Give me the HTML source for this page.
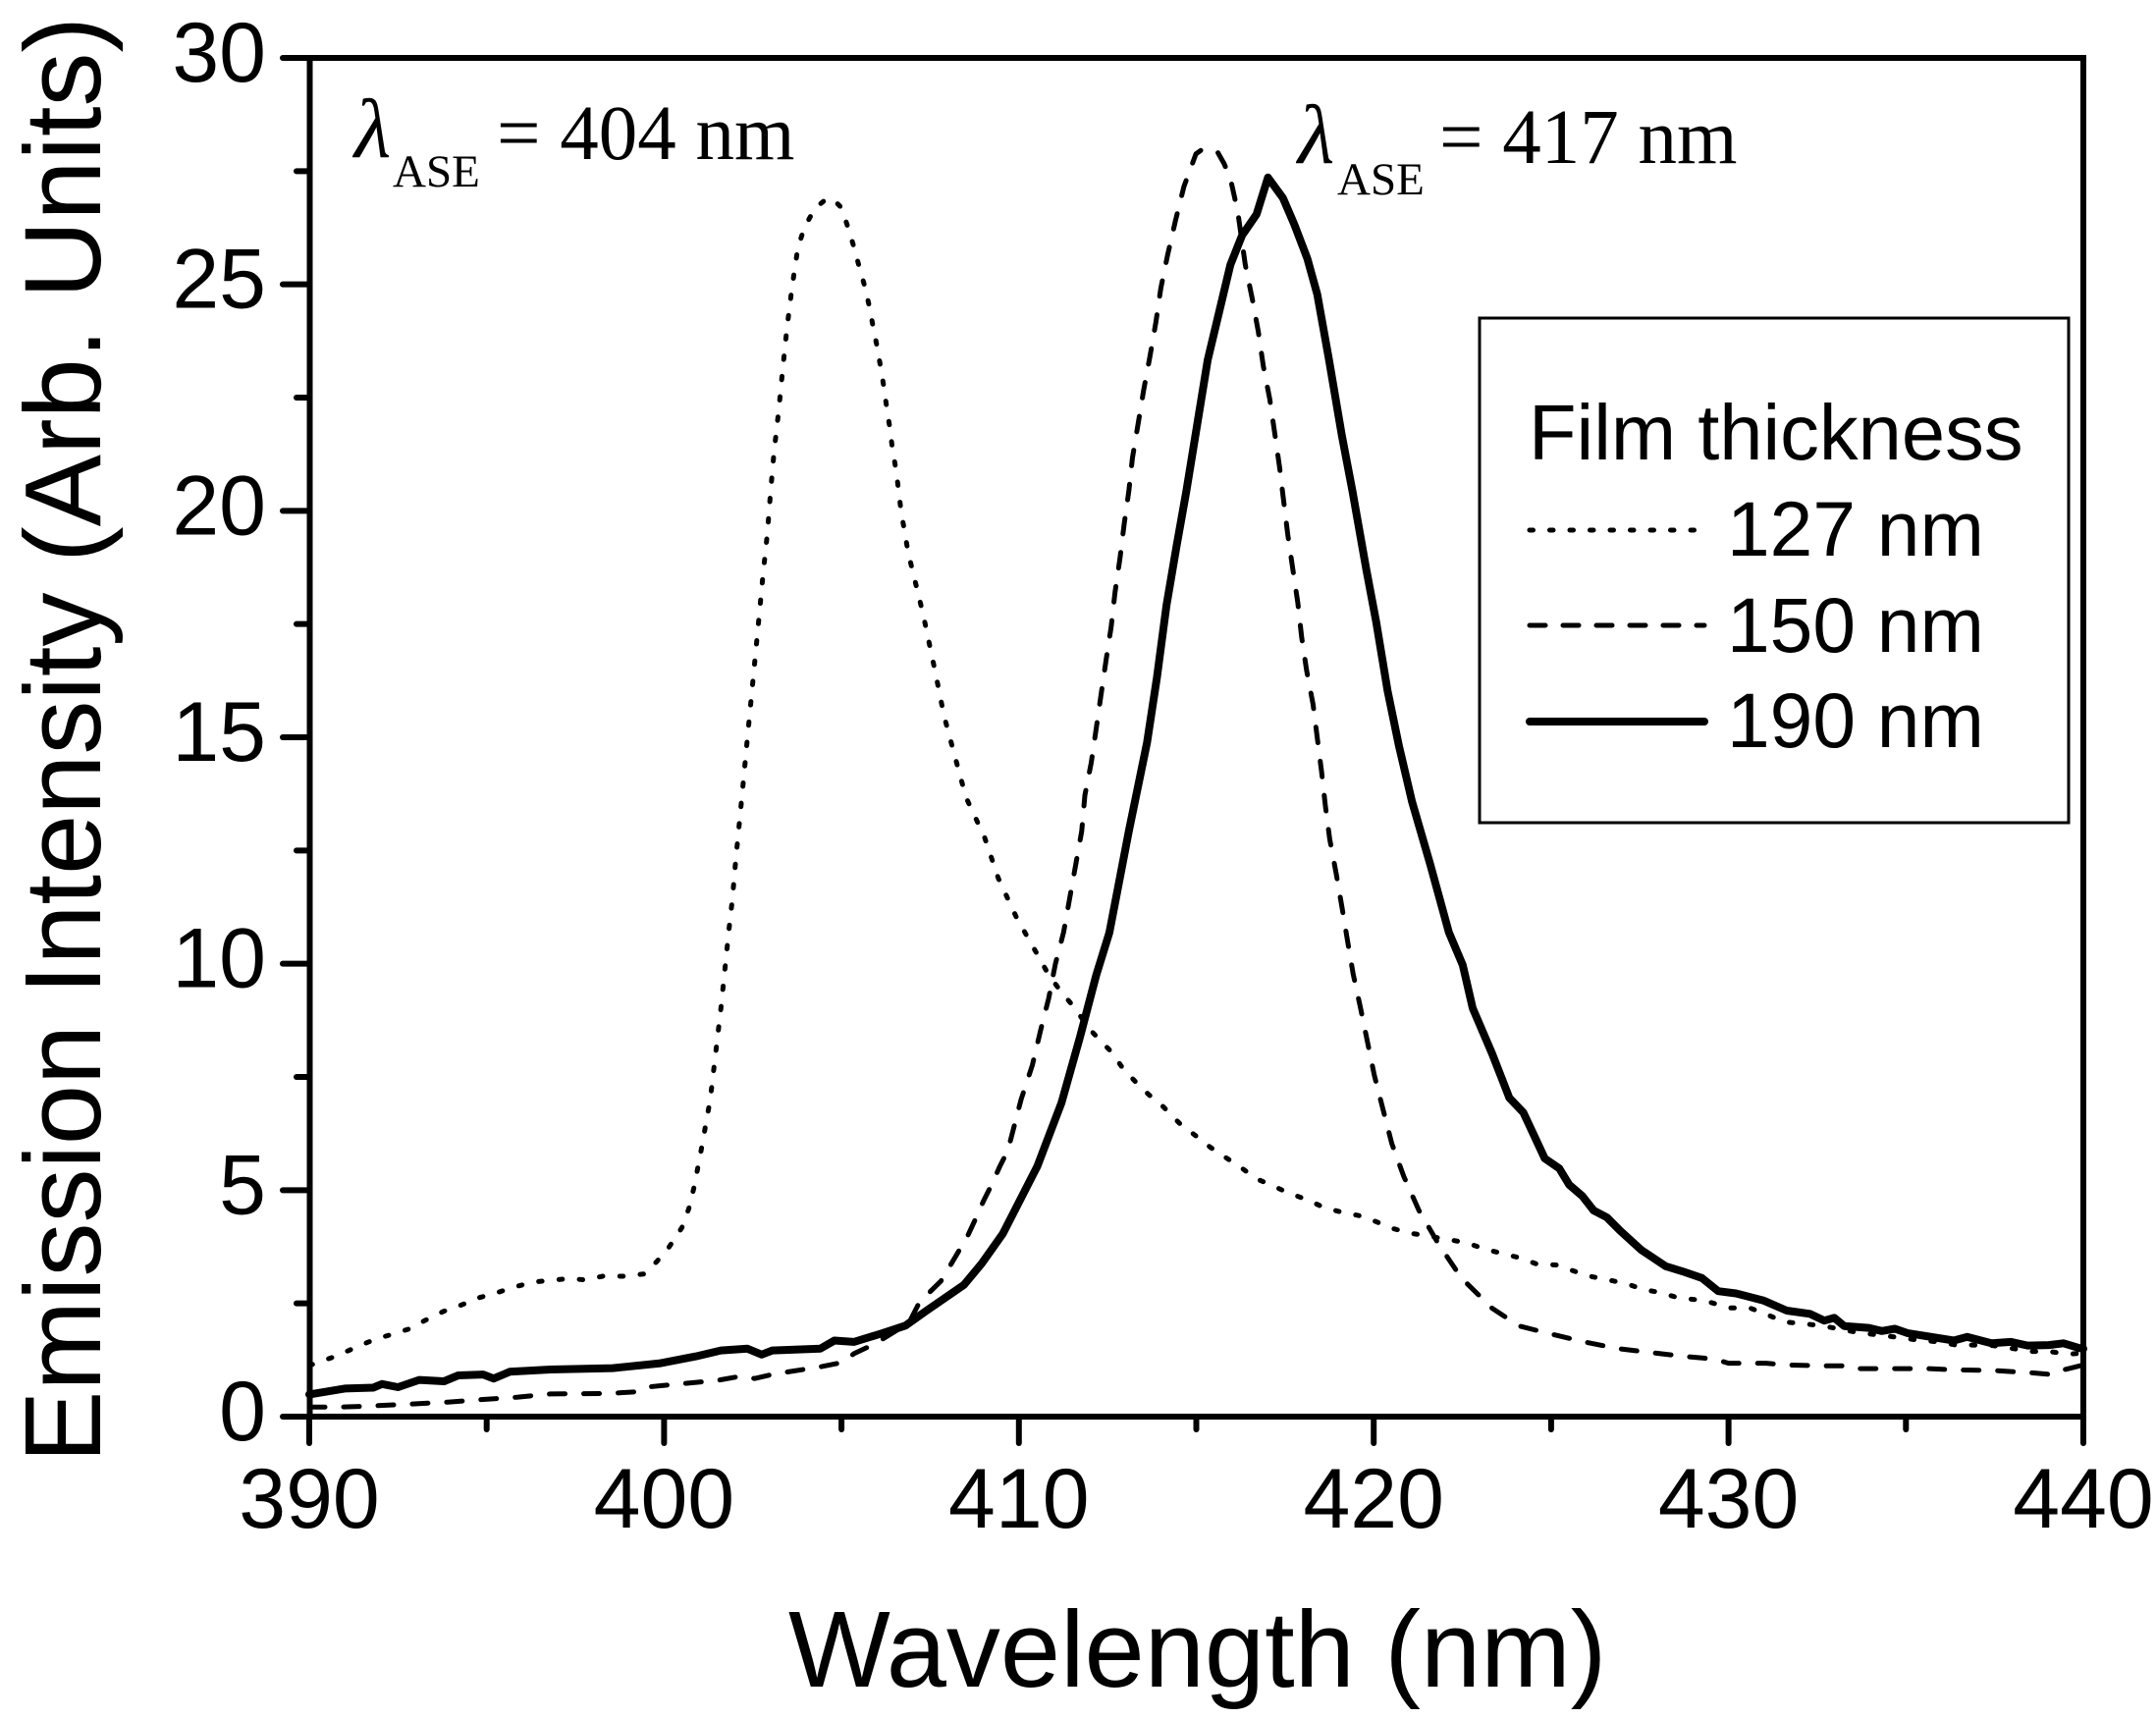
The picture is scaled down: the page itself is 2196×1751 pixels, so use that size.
<!DOCTYPE html>
<html lang="en">
<head>
<meta charset="utf-8">
<title>Emission Intensity vs Wavelength</title>
<style>
html,body{margin:0;padding:0;background:#fff;}
svg{display:block;}
text{fill:#000;font-family:"Liberation Sans",sans-serif;}
.serif{font-family:"Liberation Serif",serif;}
</style>
</head>
<body>
<svg id="chart" xmlns="http://www.w3.org/2000/svg" width="2196" height="1751" viewBox="0 0 2196 1751">
  <rect x="0" y="0" width="2196" height="1751" fill="#fff"/>
  <g id="series"></g>
  <g id="axes"></g>
  <rect x="315.5" y="59" width="1806.5" height="1384" fill="none" stroke="#000" stroke-width="6"/>
  <text transform="translate(102,1490) rotate(-90)" font-size="110">Emission Intensity (Arb. Units)</text>
  <text x="803" y="1718" font-size="110">Wavelength (nm)</text>

  <g>
    <text class="serif" x="361" y="160" font-size="86" font-style="italic">λ</text>
    <text class="serif" x="400" y="190" font-size="47">ASE</text>
    <text class="serif" x="506" y="162" font-size="79">= 404 nm</text>
  </g>
  <g>
    <text class="serif" x="1322" y="166" font-size="86" font-style="italic">λ</text>
    <text class="serif" x="1362" y="198" font-size="47">ASE</text>
    <text class="serif" x="1466" y="166" font-size="79">= 417 nm</text>
  </g>

  <g>
    <rect x="1507" y="324" width="600" height="514" fill="#fff" stroke="#000" stroke-width="3"/>
    <text x="1557" y="468" font-size="79.5">Film thickness</text>
    <line x1="1558" y1="540" x2="1736" y2="540" stroke="#000" stroke-width="5" stroke-linecap="round" stroke-dasharray="3.5 17"/>
    <text x="1759" y="566" font-size="78.5">127 nm</text>
    <line x1="1558" y1="637" x2="1736" y2="637" stroke="#000" stroke-width="5" stroke-linecap="round" stroke-dasharray="16 18"/>
    <text x="1759" y="664" font-size="78.5">150 nm</text>
    <line x1="1558" y1="735" x2="1736" y2="735" stroke="#000" stroke-width="8" stroke-linecap="round"/>
    <text x="1759" y="761" font-size="78.5">190 nm</text>
  </g>
</svg>
<script>
const xTickLabels = [390, 400, 410, 420, 430, 440];
const xMinorTicks = [395, 405, 415, 425, 435];
const yTickLabels = [0, 5, 10, 15, 20, 25, 30];
const yMinorTicks = [2.5, 7.5, 12.5, 17.5, 22.5, 27.5];

const wavelength127 = [390,390.27,390.8,391.28,391.86,392.35,392.83,393.28,393.77,394.3,394.8,395.3,395.77,396.3,396.8,397.36,397.75,398.27,398.85,399.44,399.79,400.12,400.5,400.7,400.85,401.05,401.3,401.6,401.85,401.92,402.02,402.13,402.24,402.35,402.46,402.57,402.68,402.79,402.91,403,403.1,403.23,403.34,403.46,403.6,403.77,403.95,404.25,404.6,404.8,405,405.19,405.36,405.51,405.66,405.79,405.89,406.01,406.11,406.2,406.28,406.37,406.44,406.54,406.61,406.68,406.78,406.88,407.3,407.66,407.89,408.2,408.51,409.03,409.42,409.94,410.25,410.56,410.84,411.2,411.58,411.95,412.25,412.61,412.95,413.33,413.66,414.07,414.56,414.97,415.39,415.83,416.26,416.7,417.18,417.62,418.13,418.59,419.07,419.58,420.02,420.51,421.04,421.59,422.1,422.6,423.13,423.59,424.14,424.59,425.14,425.58,426.09,426.66,427.14,427.6,428.07,428.6,429.13,429.5,430.03,430.6,431.15,431.58,432.13,432.68,433.7,434.27,434.78,435.33,435.93,436.41,436.9,437.45,437.96,438.49,439.04,439.55,440];
const intensity127 = [1.13,1.2,1.35,1.52,1.71,1.82,1.94,2.13,2.32,2.47,2.63,2.74,2.86,2.97,3.01,3.05,3.02,3.1,3.1,3.15,3.42,3.72,4.17,4.6,5.08,5.9,7,9,10.92,11.39,12.29,13.18,14.08,14.99,15.89,16.79,17.7,18.6,19.5,20.4,21.3,22.2,23.1,24,24.9,25.8,26.25,26.68,26.9,26.85,26.69,26.24,25.8,25.36,24.94,24.49,24.06,23.6,23.14,22.7,22.24,21.8,21.34,20.89,20.44,19.99,19.54,19.08,17.72,16.38,15.48,14.57,13.67,12.8,11.89,11.01,10.58,10.15,9.75,9.37,9.02,8.59,8.34,8.05,7.67,7.36,7.11,6.84,6.45,6.21,5.95,5.72,5.5,5.25,5.09,4.93,4.79,4.62,4.52,4.44,4.32,4.16,4.05,3.98,3.91,3.84,3.7,3.61,3.5,3.37,3.35,3.23,3.1,3.01,2.93,2.81,2.74,2.62,2.58,2.52,2.4,2.4,2.23,2.09,2.05,2,1.85,1.8,1.75,1.69,1.65,1.58,1.58,1.57,1.51,1.44,1.44,1.38,1.4];

const wavelength150 = [390,390.8,391.6,392.9,393.9,394.9,395.85,396.8,398.4,399.25,399.6,400.4,401.5,402.15,402.55,403.1,404.4,405.05,405.35,405.95,406.9,407.2,407.8,408,408.55,408.8,409,409.23,409.46,409.69,410.06,410.38,410.61,410.84,411.03,411.26,411.77,411.86,412.04,412.18,412.32,412.46,412.6,412.71,412.85,412.97,413.1,413.2,413.36,413.52,413.69,413.86,414,414.19,414.41,414.65,414.99,415.2,415.46,415.6,415.78,415.96,416.07,416.17,416.38,416.58,416.75,416.89,417.07,417.21,417.35,417.46,417.58,417.72,417.86,417.97,418.11,418.29,418.41,418.53,418.64,418.76,418.94,419.1,419.26,419.42,419.63,419.82,420.02,420.26,420.51,420.85,421.27,421.82,422.47,423.34,424.1,424.97,425.94,426.9,427.97,428.74,429.61,430,431.06,431.64,432.8,433.38,433.67,434.64,435.6,436.48,437.45,438.51,439.09,439.48,440];
const intensity150 = [0.21,0.21,0.23,0.28,0.32,0.38,0.43,0.5,0.51,0.55,0.66,0.72,0.8,0.89,0.84,0.94,1.1,1.2,1.39,1.61,2.07,2.53,2.99,3.25,3.98,4.4,4.76,5.12,5.52,5.88,7,7.76,8.52,9.24,10,10.69,12.93,13.72,14.44,15.2,15.96,16.72,17.44,18.2,18.96,19.72,20.44,21.16,21.92,22.68,23.4,24.16,24.92,25.64,26.4,27.16,27.88,28,27.94,27.92,27.67,27.34,26.95,26.59,25.43,24.67,23.95,23.19,22.47,21.71,20.95,20.23,19.47,18.71,17.97,17.21,16.47,15.73,14.99,14.24,13.48,12.75,12,11.27,10.51,9.78,9.02,8.29,7.53,6.79,6.03,5.3,4.56,3.82,3.06,2.39,2,1.83,1.65,1.5,1.4,1.33,1.27,1.18,1.18,1.14,1.12,1.12,1.06,1.06,1.06,1.03,1.02,0.97,0.93,1.04,1.14];

const wavelength190 = [390,391,391.8,392.05,392.5,393.1,393.8,394.2,394.9,395.2,395.65,396.8,398.55,399.9,400.9,401.6,402.35,402.75,403.05,404.4,404.8,405.35,406.15,406.8,407.4,408.45,408.95,409.55,410.52,411.2,411.72,412.18,412.55,413.1,413.61,413.89,414.16,414.44,414.72,415.32,415.96,416.29,416.7,417.02,417.44,417.76,418.13,418.41,418.74,419.1,419.4,419.79,420.07,420.39,420.71,421.08,421.59,422.12,422.51,422.79,423.34,423.82,424.22,424.82,425.23,425.51,425.88,426.2,426.57,426.94,427.54,428.23,428.69,429.25,429.71,430.21,431,431.64,432.29,432.7,432.98,433.26,433.95,434.32,434.69,435.06,436.35,436.72,437.41,437.96,438.43,439.03,439.44,439.9,440];
const intensity190 = [0.49,0.62,0.64,0.72,0.65,0.81,0.78,0.91,0.93,0.84,0.99,1.04,1.07,1.18,1.33,1.46,1.5,1.37,1.46,1.5,1.68,1.65,1.84,2.01,2.34,2.91,3.38,4.04,5.53,6.93,8.38,9.75,10.69,12.93,14.88,16.32,17.91,19.21,20.44,23.33,25.43,26.08,26.55,27.36,26.91,26.33,25.57,24.78,23.33,21.67,20.44,18.71,17.55,16.03,14.81,13.58,12.2,10.69,9.97,9.02,8.01,7.04,6.71,5.7,5.48,5.12,4.87,4.55,4.4,4.11,3.68,3.32,3.21,3.06,2.77,2.72,2.56,2.34,2.27,2.12,2.18,2,1.96,1.89,1.94,1.84,1.68,1.76,1.62,1.65,1.57,1.58,1.62,1.51,1.5];

const SVG_NS = 'http://www.w3.org/2000/svg';
const plot = {left: 315, right: 2122, top: 59, bottom: 1443};
const xMin = 390, xMax = 440, yMin = 0, yMax = 30;
function xScale(v) { return plot.left + (v - xMin) / (xMax - xMin) * (plot.right - plot.left); }
function yScale(v) { return plot.bottom - (v - yMin) / (yMax - yMin) * (plot.bottom - plot.top); }

const seriesGroup = document.getElementById('series');
const axesGroup = document.getElementById('axes');

function makeTick(x1, y1, x2, y2) {
  const t = document.createElementNS(SVG_NS, 'line');
  t.setAttribute('x1', x1);
  t.setAttribute('y1', y1);
  t.setAttribute('x2', x2);
  t.setAttribute('y2', y2);
  t.setAttribute('stroke', '#000');
  t.setAttribute('stroke-width', '6');
  t.setAttribute('stroke-linecap', 'round');
  axesGroup.appendChild(t);
  return t;
}
function makeLabel(str, x, y, anchor) {
  const t = document.createElementNS(SVG_NS, 'text');
  t.setAttribute('x', x);
  t.setAttribute('y', y);
  t.setAttribute('font-size', '86');
  t.setAttribute('text-anchor', anchor);
  t.textContent = str;
  axesGroup.appendChild(t);
  return t;
}

xTickLabels.forEach(function (v) {
  const tick = makeTick(xScale(v), plot.bottom, xScale(v), plot.bottom + 27);
  
  
  const label = makeLabel(String(v), xScale(v), 1556, 'middle');
  
  
});
xMinorTicks.forEach(function (v) {
  const tick = makeTick(xScale(v), plot.bottom, xScale(v), plot.bottom + 13);
  
  
});
yTickLabels.forEach(function (v) {
  const tick = makeTick(plot.left, yScale(v), plot.left - 27, yScale(v));
  
  
  const label = makeLabel(String(v), 271, yScale(v) + 24, 'end');
  
  
});
yMinorTicks.forEach(function (v) {
  const tick = makeTick(plot.left, yScale(v), plot.left - 13, yScale(v));
  
  
});

function makeCurve(xs, ys, width, dash) {
  const p = document.createElementNS(SVG_NS, 'polyline');
  const pts = xs.map(function (x, i) { return xScale(x).toFixed(1) + ',' + yScale(ys[i]).toFixed(1); });
  p.setAttribute('points', pts.join(' '));
  p.setAttribute('fill', 'none');
  p.setAttribute('stroke', '#000');
  p.setAttribute('stroke-width', width);
  p.setAttribute('stroke-linejoin', 'round');
  p.setAttribute('stroke-linecap', 'round');
  if (dash) { p.setAttribute('stroke-dasharray', dash); }
  seriesGroup.appendChild(p);
  return p;
}
const curve127 = makeCurve(wavelength127, intensity127, 5, '3.5 17.3');


const curve150 = makeCurve(wavelength150, intensity150, 5, '16 19');


const curve190 = makeCurve(wavelength190, intensity190, 8, null);


</script>
</body>
</html>
